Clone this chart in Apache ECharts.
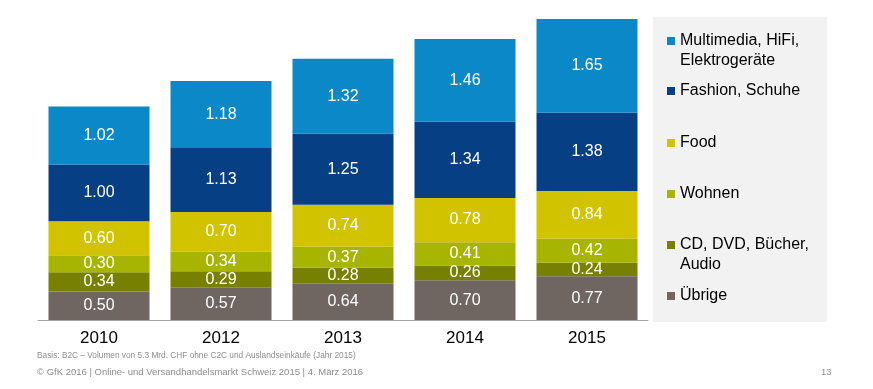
<!DOCTYPE html>
<html><head><meta charset="utf-8">
<script src="https://cdn.jsdelivr.net/npm/echarts@6/dist/echarts.min.js"></script>
<style>html,body{margin:0;padding:0;background:#fff}#c{width:873px;height:389px}</style>
</head><body><div id="c"></div>
<script>
var years = ['2010','2012','2013','2014','2015'];
var uebrige = [0.50,0.57,0.64,0.70,0.77];
var cdDvd = [0.34,0.29,0.28,0.26,0.24];
var wohnen = [0.30,0.34,0.37,0.41,0.42];
var food = [0.60,0.70,0.74,0.78,0.84];
var fashion = [1.00,1.13,1.25,1.34,1.38];
var multimedia = [1.02,1.18,1.32,1.46,1.65];
var seriesNames = ['Übrige','CD, DVD, Bücher, Audio','Wohnen','Food','Fashion, Schuhe','Multimedia, HiFi, Elektrogeräte'];
var legendLabels = ['Übrige','\nCD, DVD, Bücher,\nAudio','Wohnen','Food','Fashion, Schuhe','\nMultimedia, HiFi,\nElektrogeräte'];
var colors = ['#6f6561','#788000','#a7b400','#d1c300','#063f84','#0a88c8'];
var seriesData = [uebrige, cdDvd, wohnen, food, fashion, multimedia];

var FONT = '"Liberation Sans", Arial, sans-serif';
var chart = echarts.init(document.getElementById('c'));

var series = seriesData.map(function(d, i){
  return {
    name: seriesNames[i], type: 'bar', stack: 'total', data: d, barWidth: 101,
    itemStyle: {color: colors[i]},
    label: {show: true, position: 'inside', color: '#fff', fontSize: 16, fontFamily: FONT,
      formatter: function(p){ return p.value.toFixed(2); }},
    emphasis: {disabled: true}
  };
});

// legend icon centers (y) per series index
var iconY = [296, 245, 194, 143, 91, 41];
var legends = seriesNames.map(function(n, i){
  var multi = legendLabels[i].indexOf('\n') >= 0;
  return {
    data: [n], left: 667, top: multi ? iconY[i] - 30 : iconY[i] - 10,
    padding: 0, itemWidth: 8, itemHeight: 8, icon: 'rect', selectedMode: false,
    formatter: function(){ return legendLabels[i]; },
    textStyle: {fontSize: 16, fontFamily: FONT, color: '#000', lineHeight: 20}
  };
});

chart.setOption({
  animation: false,
  grid: {left: 38, right: 225, top: 19, bottom: 69},
  xAxis: {type: 'category', data: years,
    axisLine: {lineStyle: {color: '#a6a6a6', width: 1}}, axisTick: {show: false},
    axisLabel: {color: '#000', fontSize: 17, fontFamily: FONT, margin: 10}},
  yAxis: {type: 'value', min: 0, max: 5.3, show: false, splitLine: {show: false}},
  legend: legends,
  graphic: [
    {type: 'rect', left: 653, top: 17, z: -1, shape: {width: 174, height: 305}, style: {fill: '#f2f2f2'}},
    {type: 'text', left: 37, top: 352, style: {text: 'Basis: B2C – Volumen von 5.3 Mrd. CHF ohne C2C und Auslandseinkäufe (Jahr 2015)', fill: '#8c8c8c', font: '8.3px "Liberation Sans", sans-serif'}},
    {type: 'text', left: 37, top: 367, style: {text: '© GfK 2016 | Online- und Versandhandelsmarkt Schweiz 2015 | 4. März 2016', fill: '#8c8c8c', font: '9.5px "Liberation Sans", sans-serif'}},
    {type: 'text', left: 821, top: 367, style: {text: '13', fill: '#8c8c8c', font: '9.5px "Liberation Sans", sans-serif'}}
  ],
  series: series
});
</script></body></html>
